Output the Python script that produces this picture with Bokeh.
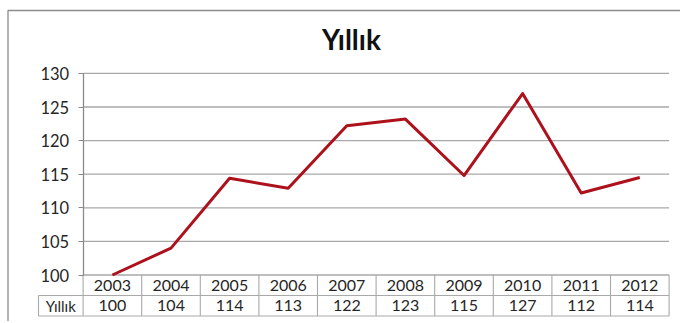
from bokeh.plotting import figure
from bokeh.models import Range1d, FixedTicker, LinearAxis
from bokeh.core.properties import value
from bokeh.embed import file_html
from bokeh.resources import INLINE

# ---- data ----
chart_title = "Yıllık"
series_name = "Yıllık"
years = [2003, 2004, 2005, 2006, 2007, 2008, 2009, 2010, 2011, 2012]
values = [100.0, 104.0, 114.4, 112.9, 122.2, 123.2, 114.8, 127.0, 112.2, 114.5]
table_values = ["100", "104", "114", "113", "122", "123", "115", "127", "112", "114"]
y_ticks = [100, 105, 110, 115, 120, 125, 130]

# ---- layout constants (pixels) ----
W, H = 680, 321
PX_YEAR = 58.6        # pixels per year column
PX_UNIT = 6.72        # pixels per value unit
FIRST_COL_PX = 111.9  # centre of first year column from figure left
BASE_PX = 274.5       # value 100 from figure top

x0 = years[0] - FIRST_COL_PX / PX_YEAR
x1 = x0 + W / PX_YEAR
y1 = y_ticks[0] + BASE_PX / PX_UNIT
y0 = y1 - H / PX_UNIT

FONT = "Lato"
GRID = "#a9a9a9"
TXT = "#262626"

p = figure(width=W, height=H, x_range=Range1d(x0, x1), y_range=Range1d(y0, y1),
           output_backend="svg", toolbar_location=None, min_border=0,
           x_axis_type=None, y_axis_type=None)
p.outline_line_color = None
p.background_fill_color = "white"
p.border_fill_color = "white"

left_edge = years[0] - 0.5
right_edge = years[-1] + 0.5

# horizontal gridlines
p.segment(x0=[left_edge] * len(y_ticks), x1=[right_edge] * len(y_ticks),
          y0=y_ticks, y1=y_ticks, line_color=GRID, line_width=1.3)

# y axis at the left edge of the plot area
yaxis = LinearAxis(ticker=FixedTicker(ticks=y_ticks), fixed_location=left_edge,
                   bounds=(y_ticks[0], y_ticks[-1]))
yaxis.axis_line_color = "#8a8a8a"
yaxis.axis_line_width = 1.3
yaxis.major_tick_line_color = "#8a8a8a"
yaxis.major_tick_out = 5
yaxis.major_tick_in = 0
yaxis.minor_tick_line_color = None
yaxis.major_label_standoff = 9
yaxis.major_label_text_font = FONT
yaxis.major_label_text_font_size = "16.5px"
yaxis.major_label_text_color = TXT
p.add_layout(yaxis, "left")

# series line
p.line(years, values, line_color="#ad111b", line_width=3, line_join="round")

# ---- data table below ----
row_h = 20.5 / PX_UNIT
top = y_ticks[0]
mid = top - row_h
bot = mid - row_h
label_left = years[0] - (111.9 - 38.0) / PX_YEAR
label_center = (label_left + left_edge) / 2

bounds_x = [yr - 0.5 for yr in years] + [years[-1] + 0.5]
p.segment(x0=bounds_x, x1=bounds_x, y0=[top] * len(bounds_x), y1=[bot] * len(bounds_x),
          line_color=GRID, line_width=1.1)
p.segment(x0=[label_left, label_left, label_left], x1=[label_left, right_edge, right_edge],
          y0=[mid, mid, bot], y1=[bot, mid, bot], line_color=GRID, line_width=1.1)

p.text(x=years, y=[(top + mid) / 2] * len(years), text=[str(y) for y in years],
       text_font=value(FONT), text_font_size="16px", text_color=TXT,
       text_align="center", text_baseline="middle")
p.text(x=years, y=[(mid + bot) / 2] * len(years), text=table_values,
       text_font=value(FONT), text_font_size="16px", text_color=TXT,
       text_align="center", text_baseline="middle")
p.text(x=[label_center], y=[(mid + bot) / 2], text=[series_name],
       text_font=value(FONT), text_font_size="15px", text_color=TXT,
       text_align="center", text_baseline="middle")

# ---- title ----
p.text(x=[years[0] + (351 - 111.9) / PX_YEAR], y=[y_ticks[-1] + (72.4 - 38) / PX_UNIT],
       text=[chart_title], text_font=value(FONT), text_font_style="bold",
       text_font_size="28px", text_color="#111111",
       text_align="center", text_baseline="middle")

# ---- outer chart border (top and left) ----
bx = x0 + 7.5 / PX_YEAR
by = y1 - 10.0 / PX_UNIT
p.line([bx, bx, x1], [y0, by, by], line_color="#8c8c8c", line_width=1.3)

open("out.html", "w").write(file_html(p, INLINE))
